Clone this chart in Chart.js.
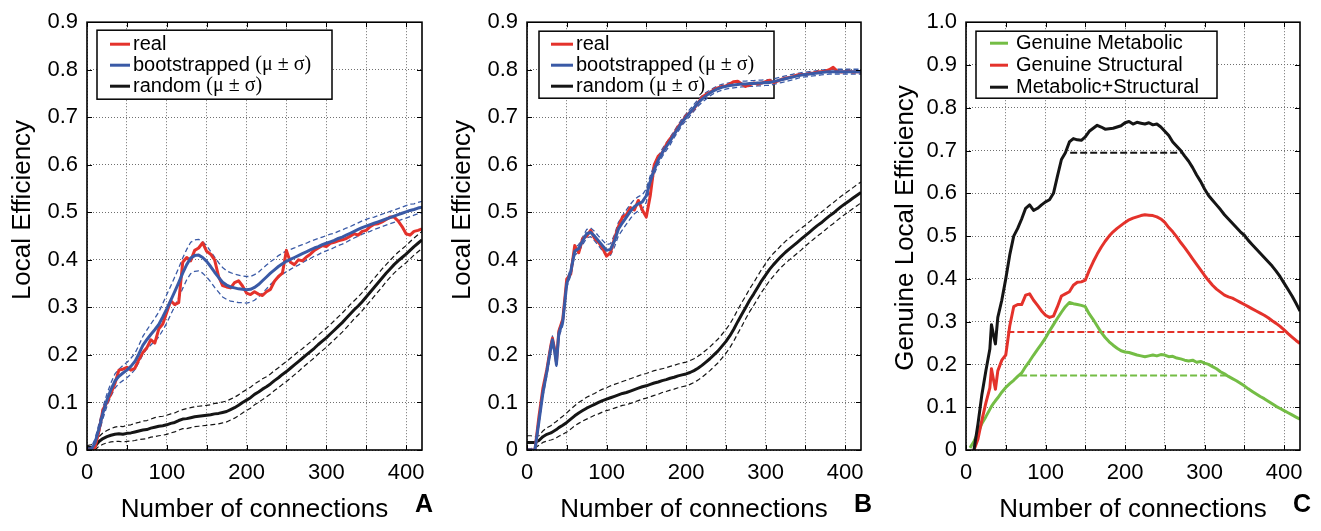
<!DOCTYPE html>
<html><head><meta charset="utf-8">
<script src="https://cdn.jsdelivr.net/npm/chart.js@4.4.1/dist/chart.umd.min.js"></script>
<style>
html,body{margin:0;padding:0;background:#fff;}
#wrap{position:relative;width:1321px;height:531px;overflow:hidden;background:#fff;}
.pan{position:absolute;top:0;height:531px;}
</style></head><body>
<div id="wrap">
<div class="pan" style="left:0;width:440px"><canvas id="cA" width="440" height="531"></canvas></div>
<div class="pan" style="left:440px;width:440px"><canvas id="cB" width="440" height="531"></canvas></div>
<div class="pan" style="left:880px;width:441px"><canvas id="cC" width="441" height="531"></canvas></div>
</div>
<script>
// ---------------- DATA ----------------
const X_TITLE = 'Number of connections';
const Y_TITLE_AB = 'Local Efficiency';
const Y_TITLE_C = 'Genuine Local Efficiency';
const LEGEND_AB = ['real', 'bootstrapped (μ ± σ)', 'random (μ ± σ)'];
const LEGEND_C = ['Genuine Metabolic', 'Genuine Structural', 'Metabolic+Structural'];
const PANEL_LETTERS = ['A', 'B', 'C'];

// x (number of connections) for panel A
const X_A = [0,5,10,15,20,25,30,35,40,45,
  50,55,60,65,70,75,80,85,90,95,
  100,105,110,115,120,125,130,135,140,145,
  150,155,160,165,170,175,180,185,190,195,
  200,205,210,215,220,225,230,235,240,245,
  250,255,260,265,270,275,280,285,290,295,
  300,305,310,315,320,325,330,335,340,345,
  350,355,360,365,370,375,380,385,390,395,
  400,405,410,415,420];

const A_real = [0,0,0.005,0.04,0.085,0.1,0.119,0.14,0.168,0.17,
  0.174,0.168,0.172,0.19,0.205,0.215,0.232,0.225,0.255,0.265,
  0.29,0.314,0.306,0.31,0.395,0.405,0.398,0.42,0.425,0.436,
  0.418,0.412,0.4,0.365,0.346,0.343,0.341,0.352,0.356,0.345,
  0.33,0.327,0.333,0.328,0.325,0.333,0.338,0.355,0.365,0.372,
  0.42,0.395,0.39,0.4,0.398,0.406,0.412,0.42,0.425,0.43,
  0.428,0.435,0.437,0.44,0.442,0.445,0.45,0.455,0.452,0.46,
  0.462,0.47,0.475,0.476,0.48,0.485,0.49,0.49,0.482,0.47,
  0.455,0.452,0.46,0.462,0.465];

const A_boot = [0,0,0.015,0.045,0.078,0.105,0.127,0.145,0.155,0.162,
  0.168,0.176,0.186,0.202,0.22,0.232,0.243,0.253,0.264,0.28,
  0.297,0.315,0.333,0.352,0.372,0.39,0.404,0.409,0.41,0.405,
  0.397,0.386,0.374,0.363,0.353,0.347,0.343,0.341,0.339,0.338,
  0.337,0.338,0.342,0.348,0.356,0.364,0.372,0.379,0.386,0.392,
  0.397,0.401,0.405,0.409,0.413,0.417,0.421,0.425,0.428,0.432,
  0.435,0.438,0.441,0.445,0.448,0.452,0.456,0.46,0.464,0.468,
  0.471,0.474,0.477,0.48,0.483,0.486,0.489,0.492,0.495,0.498,
  0.501,0.504,0.506,0.509,0.511];

const A_bootSd = [0.004,0.005,0.008,0.01,0.012,0.013,0.014,0.015,0.015,0.016,
  0.016,0.017,0.017,0.018,0.019,0.02,0.022,0.024,0.026,0.028,
  0.03,0.03,0.031,0.031,0.032,0.032,0.033,0.033,0.033,0.033,
  0.033,0.032,0.032,0.031,0.031,0.03,0.03,0.029,0.029,0.028,
  0.028,0.027,0.027,0.026,0.026,0.025,0.024,0.023,0.023,0.022,
  0.022,0.021,0.02,0.02,0.019,0.018,0.018,0.017,0.017,0.016,
  0.016,0.016,0.015,0.015,0.015,0.015,0.014,0.014,0.014,0.014,
  0.014,0.014,0.013,0.013,0.013,0.013,0.013,0.013,0.013,0.013,
  0.013,0.013,0.012,0.012,0.012];

const A_rand = [0.005,0.005,0.008,0.018,0.024,0.028,0.031,0.033,0.034,0.033,
  0.035,0.036,0.038,0.04,0.042,0.043,0.046,0.048,0.05,0.051,
  0.053,0.056,0.058,0.062,0.065,0.066,0.068,0.07,0.071,0.072,
  0.073,0.074,0.076,0.077,0.079,0.081,0.085,0.089,0.094,0.1,
  0.105,0.11,0.117,0.122,0.128,0.133,0.139,0.146,0.152,0.159,
  0.165,0.172,0.179,0.186,0.193,0.2,0.207,0.214,0.222,0.229,
  0.236,0.244,0.252,0.26,0.268,0.277,0.286,0.295,0.303,0.312,
  0.322,0.332,0.342,0.352,0.362,0.372,0.381,0.39,0.398,0.405,
  0.412,0.42,0.428,0.435,0.442];

const A_randSd = [0.004,0.006,0.008,0.01,0.012,0.013,0.014,0.015,0.016,0.016,
  0.017,0.017,0.018,0.018,0.019,0.019,0.019,0.02,0.02,0.02,
  0.02,0.02,0.02,0.02,0.02,0.021,0.021,0.021,0.021,0.021,
  0.021,0.021,0.022,0.022,0.022,0.022,0.022,0.022,0.022,0.022,
  0.022,0.022,0.022,0.022,0.022,0.021,0.021,0.021,0.021,0.021,
  0.021,0.021,0.021,0.021,0.02,0.02,0.02,0.02,0.02,0.02,
  0.02,0.02,0.02,0.02,0.02,0.02,0.02,0.019,0.019,0.019,
  0.019,0.019,0.019,0.019,0.019,0.018,0.018,0.018,0.018,0.018,
  0.018,0.018,0.018,0.018,0.018];

// x for panels B and C
const X_BC = [0,5,10,15,20,25,30,32,35,37,
  40,45,50,55,60,65,70,75,80,85,
  90,95,100,105,110,115,120,125,130,135,
  140,145,150,155,160,165,170,175,180,185,
  190,195,200,205,210,215,220,225,230,235,
  240,245,250,255,260,265,270,275,280,285,
  290,295,300,305,310,315,320,325,330,335,
  340,345,350,355,360,365,370,375,380,385,
  390,395,400,405,410,415,420];

const B_real = [0,0,0,0.07,0.13,0.17,0.22,0.235,0.21,0.185,
  0.25,0.275,0.36,0.37,0.43,0.415,0.445,0.45,0.462,0.445,
  0.437,0.425,0.408,0.415,0.445,0.47,0.49,0.495,0.51,0.505,
  0.525,0.505,0.49,0.535,0.6,0.618,0.625,0.642,0.655,0.665,
  0.68,0.69,0.703,0.71,0.718,0.73,0.742,0.748,0.752,0.758,
  0.762,0.765,0.766,0.77,0.775,0.776,0.77,0.765,0.768,0.772,
  0.77,0.772,0.775,0.778,0.773,0.776,0.78,0.782,0.784,0.786,
  0.789,0.79,0.79,0.792,0.793,0.795,0.796,0.797,0.8,0.805,
  0.797,0.795,0.796,0.797,0.795,0.796,0.795];

const B_boot = [0,0,0,0.06,0.12,0.165,0.215,0.232,0.205,0.18,
  0.245,0.27,0.35,0.375,0.418,0.424,0.44,0.455,0.458,0.45,
  0.44,0.43,0.42,0.422,0.44,0.465,0.478,0.49,0.502,0.512,
  0.518,0.522,0.535,0.565,0.59,0.61,0.625,0.638,0.65,0.664,
  0.677,0.69,0.7,0.71,0.72,0.73,0.738,0.745,0.751,0.756,
  0.76,0.763,0.765,0.767,0.768,0.769,0.77,0.77,0.771,0.771,
  0.772,0.772,0.773,0.773,0.775,0.777,0.779,0.781,0.783,0.785,
  0.787,0.789,0.79,0.791,0.792,0.793,0.794,0.795,0.796,0.796,
  0.796,0.796,0.796,0.796,0.796,0.796,0.796];

const B_bootSd = [0.003,0.003,0.004,0.006,0.007,0.008,0.008,0.008,0.008,0.008,
  0.008,0.008,0.008,0.008,0.008,0.008,0.008,0.009,0.009,0.01,
  0.01,0.011,0.012,0.012,0.013,0.014,0.015,0.015,0.015,0.015,
  0.015,0.015,0.014,0.012,0.01,0.009,0.008,0.008,0.008,0.007,
  0.007,0.007,0.007,0.007,0.007,0.007,0.007,0.007,0.006,0.006,
  0.006,0.006,0.006,0.006,0.006,0.006,0.006,0.006,0.006,0.006,
  0.006,0.006,0.006,0.006,0.006,0.006,0.006,0.006,0.006,0.006,
  0.005,0.005,0.005,0.005,0.005,0.005,0.005,0.005,0.005,0.005,
  0.005,0.005,0.005,0.005,0.005,0.005,0.005];

const B_rand = [0.016,0.016,0.016,0.02,0.028,0.033,0.036,0.038,0.041,0.043,
  0.047,0.052,0.058,0.065,0.072,0.078,0.083,0.088,0.092,0.096,
  0.1,0.104,0.107,0.11,0.113,0.116,0.119,0.121,0.124,0.127,
  0.13,0.133,0.135,0.138,0.141,0.143,0.146,0.148,0.151,0.153,
  0.156,0.158,0.16,0.163,0.167,0.172,0.178,0.185,0.192,0.2,
  0.208,0.218,0.228,0.24,0.254,0.27,0.285,0.3,0.315,0.328,
  0.342,0.356,0.368,0.38,0.39,0.399,0.408,0.416,0.423,0.43,
  0.437,0.444,0.451,0.458,0.465,0.472,0.478,0.485,0.492,0.498,
  0.505,0.512,0.518,0.524,0.53,0.536,0.542];

const B_randSd = [0.014,0.014,0.012,0.01,0.012,0.014,0.015,0.016,0.017,0.017,
  0.018,0.019,0.02,0.021,0.021,0.022,0.022,0.023,0.023,0.023,
  0.024,0.024,0.024,0.025,0.025,0.025,0.025,0.026,0.026,0.026,
  0.026,0.026,0.026,0.026,0.026,0.026,0.025,0.025,0.025,0.025,
  0.025,0.025,0.025,0.025,0.025,0.025,0.025,0.025,0.025,0.025,
  0.025,0.025,0.025,0.025,0.025,0.025,0.025,0.024,0.024,0.024,
  0.024,0.024,0.024,0.024,0.024,0.023,0.023,0.023,0.023,0.023,
  0.023,0.023,0.022,0.022,0.022,0.022,0.022,0.022,0.022,0.022,
  0.022,0.022,0.022,0.022,0.022,0.022,0.022];

const C_met = [null,0.005,0.02,0.04,0.062,0.078,0.095,0.102,0.11,0.115,
  0.122,0.135,0.146,0.155,0.163,0.172,0.18,0.195,0.208,0.222,
  0.235,0.248,0.262,0.278,0.293,0.308,0.322,0.335,0.345,0.342,
  0.34,0.338,0.335,0.318,0.305,0.29,0.275,0.263,0.253,0.245,
  0.238,0.232,0.229,0.228,0.225,0.222,0.22,0.218,0.22,0.222,
  0.22,0.223,0.222,0.218,0.219,0.215,0.213,0.21,0.208,0.21,
  0.205,0.207,0.203,0.2,0.195,0.19,0.183,0.178,0.172,0.167,
  0.162,0.156,0.15,0.143,0.137,0.131,0.125,0.12,0.114,0.108,
  0.102,0.097,0.092,0.087,0.082,0.077,0.072];

const C_str = [null,null,0,0.025,0.07,0.11,0.145,0.19,0.16,0.142,
  0.185,0.21,0.222,0.29,0.335,0.34,0.34,0.362,0.365,0.35,
  0.338,0.325,0.315,0.31,0.313,0.335,0.36,0.365,0.37,0.385,
  0.392,0.393,0.397,0.42,0.44,0.458,0.474,0.488,0.5,0.51,
  0.518,0.525,0.532,0.538,0.542,0.545,0.548,0.55,0.549,0.548,
  0.545,0.54,0.532,0.52,0.51,0.498,0.485,0.473,0.46,0.447,
  0.434,0.421,0.408,0.396,0.385,0.376,0.369,0.362,0.358,0.355,
  0.35,0.345,0.34,0.335,0.33,0.325,0.32,0.315,0.309,0.302,
  0.296,0.289,0.281,0.272,0.264,0.256,0.249];

const C_both = [null,null,0,0.06,0.13,0.185,0.236,0.293,0.265,0.248,
  0.31,0.35,0.4,0.456,0.5,0.518,0.54,0.565,0.573,0.56,
  0.565,0.573,0.58,0.585,0.6,0.64,0.679,0.695,0.72,0.728,
  0.725,0.724,0.732,0.745,0.752,0.759,0.755,0.75,0.751,0.752,
  0.755,0.758,0.765,0.768,0.762,0.766,0.764,0.762,0.765,0.76,
  0.762,0.755,0.745,0.735,0.72,0.71,0.7,0.687,0.675,0.66,
  0.643,0.628,0.61,0.595,0.584,0.573,0.562,0.55,0.54,0.53,
  0.52,0.51,0.502,0.49,0.48,0.47,0.46,0.45,0.44,0.43,
  0.418,0.405,0.39,0.375,0.36,0.343,0.325];

// dashed reference levels in panel C: metabolic, structural, metabolic+structural
const C_levelY = [0.174, 0.276, 0.695];
const C_levelFrom = [68, 52, 131];
const C_levelTo = [330, 400, 270];

// ---------------- STYLE ----------------
const FONT = "'Liberation Sans', Arial, Helvetica, sans-serif";
const SERIF = "'Liberation Serif', 'Times New Roman', serif";
const RED = '#e4322b', BLUE = '#3a5aa6', BLACK = '#151515', GREEN = '#74bd45';
const GRID = '#6f6f6f';
Chart.defaults.font.family = FONT;
Chart.defaults.color = '#000';

function pts(X, Y) { return X.map((x, i) => ({x: x, y: Y[i]})); }
function band(X, Y, S, sgn) { return X.map((x, i) => ({x: x, y: Y[i] == null ? null : Y[i] + sgn * S[i]})); }
function ds(data, color, width, dash, order) {
  return {data: data, borderColor: color, backgroundColor: color, borderWidth: width,
    borderDash: dash || [], pointRadius: 0, pointHoverRadius: 0, tension: 0, fill: false,
    order: order, spanGaps: false, borderCapStyle: 'butt', borderJoinStyle: 'round'};
}

function panelPlugin(cfg) {
  return {
    id: 'panel' + cfg.letter,
    beforeDatasetsDraw(chart) {
      const ctx = chart.ctx, ca = chart.chartArea, L = cfg.legend;
      const x0 = ca.left + L.dx, y0 = ca.top + L.dy;
      ctx.save();
      ctx.fillStyle = '#fff';
      ctx.fillRect(x0, y0, L.w, L.h);
      ctx.strokeStyle = '#000';
      ctx.lineWidth = 1.5;
      ctx.strokeRect(x0, y0, L.w, L.h);
      cfg.legendLabels.forEach((lab, i) => {
        const yy = y0 + L.rows[i];
        ctx.strokeStyle = cfg.legendColors[i];
        ctx.lineWidth = 3;
        ctx.beginPath(); ctx.moveTo(x0 + L.s1, yy); ctx.lineTo(x0 + L.s2, yy); ctx.stroke();
        ctx.fillStyle = '#000';
        ctx.textBaseline = 'middle';
        ctx.textAlign = 'left';
        const k = lab.indexOf(' (');
        const main = k >= 0 ? lab.slice(0, k) : lab;
        ctx.font = L.font + 'px ' + FONT;
        ctx.fillText(main, x0 + L.tx, yy);
        if (k >= 0) {
          const wm = ctx.measureText(main + ' ').width;
          ctx.font = L.font + 'px ' + SERIF;
          ctx.fillText(lab.slice(k + 1), x0 + L.tx + wm, yy);
        }
      });
      ctx.restore();
    },
    afterDraw(chart) {
      const ctx = chart.ctx, ca = chart.chartArea;
      const xs = chart.scales.x, ys = chart.scales.y;
      ctx.save();
      ctx.strokeStyle = '#000';
      ctx.lineWidth = 1;
      ctx.beginPath();
      xs.ticks.forEach(t => {
        const px = Math.round(xs.getPixelForValue(t.value)) + 0.5;
        ctx.moveTo(px, ca.bottom); ctx.lineTo(px, ca.bottom - 5);
        ctx.moveTo(px, ca.top); ctx.lineTo(px, ca.top + 5);
      });
      ys.ticks.forEach(t => {
        const py = Math.round(ys.getPixelForValue(t.value)) + 0.5;
        ctx.moveTo(ca.left, py); ctx.lineTo(ca.left + 5, py);
        ctx.moveTo(ca.right, py); ctx.lineTo(ca.right - 5, py);
      });
      ctx.stroke();
      ctx.lineWidth = 1.6;
      ctx.strokeRect(ca.left, ca.top, ca.right - ca.left, ca.bottom - ca.top);
      // y axis title
      ctx.fillStyle = '#000';
      ctx.font = '26px ' + FONT;
      ctx.textAlign = 'center';
      ctx.textBaseline = 'middle';
      ctx.save();
      ctx.translate(cfg.yTitleX, cfg.yTitleY);
      ctx.rotate(-Math.PI / 2);
      ctx.fillText(cfg.ytitle, 0, 0);
      ctx.restore();
      // panel letter
      ctx.font = 'bold 25px ' + FONT;
      ctx.fillText(cfg.letter, cfg.letterX, 505);
      ctx.restore();
    }
  };
}

function makeChart(id, cfg) {
  return new Chart(document.getElementById(id), {
    type: 'line',
    data: {datasets: cfg.datasets},
    options: {
      responsive: false, animation: false, devicePixelRatio: 1,
      layout: {padding: {left: 0, right: cfg.padRight, top: 16, bottom: 0}},
      plugins: {legend: {display: false}, tooltip: {enabled: false}},
      scales: {
        x: {type: 'linear', min: 0, max: 420,
          ticks: {stepSize: 50, includeBounds: false, autoSkip: false, maxRotation: 0, padding: 10, font: {size: 22},
            callback: v => (v % 100 === 0 ? String(v) : '')},
          grid: {color: GRID, lineWidth: 1, drawTicks: false, borderDash: [1, 2]},
          border: {display: false, dash: [1, 2]},
          title: {display: true, text: X_TITLE, font: {size: 26}, padding: {top: 0, bottom: 6}},
          afterFit: s => { s.height = 81; }},
        y: {type: 'linear', min: 0, max: cfg.ymax,
          ticks: {stepSize: 0.1, padding: 9, font: {size: 22},
            callback: v => (Math.abs(v) < 1e-9 ? '0' : v.toFixed(1))},
          grid: {color: GRID, lineWidth: 1, drawTicks: false, borderDash: [1, 2]},
          border: {display: false, dash: [1, 2]},
          title: {display: false, text: cfg.ytitle},
          afterFit: s => { s.width = cfg.yWidth; }}
      }
    },
    plugins: [panelPlugin(cfg)]
  });
}

const DASH = [5, 3];
// Panel A
makeChart('cA', {
  letter: PANEL_LETTERS[0], letterX: 424, ymax: 0.9, ytitle: Y_TITLE_AB, yTitleX: 23, yTitleY: 210, yWidth: 87, padRight: 18,
  legendLabels: LEGEND_AB, legendColors: [RED, BLUE, BLACK],
  legend: {dx: 10, dy: 8, w: 235, h: 69, rows: [14, 35, 56], s1: 13, s2: 33, tx: 36, font: 20},
  datasets: [
    ds(pts(X_A, A_boot), BLUE, 3, [], 1),
    ds(pts(X_A, A_real), RED, 3, [], 2),
    ds(band(X_A, A_boot, A_bootSd, 1), BLUE, 1.3, DASH, 3),
    ds(band(X_A, A_boot, A_bootSd, -1), BLUE, 1.3, DASH, 3),
    ds(pts(X_A, A_rand), BLACK, 3, [], 4),
    ds(band(X_A, A_rand, A_randSd, 1), BLACK, 1.2, DASH, 5),
    ds(band(X_A, A_rand, A_randSd, -1), BLACK, 1.2, DASH, 5)
  ]
});
// Panel B
makeChart('cB', {
  letter: PANEL_LETTERS[1], letterX: 423, ymax: 0.9, ytitle: Y_TITLE_AB, yTitleX: 23, yTitleY: 210, yWidth: 87, padRight: 19,
  legendLabels: LEGEND_AB, legendColors: [RED, BLUE, BLACK],
  legend: {dx: 12, dy: 9, w: 235, h: 67, rows: [13, 34, 55], s1: 12, s2: 34, tx: 37, font: 20},
  datasets: [
    ds(pts(X_BC, B_boot), BLUE, 3, [], 1),
    ds(pts(X_BC, B_real), RED, 3, [], 2),
    ds(band(X_BC, B_boot, B_bootSd, 1), BLUE, 1.3, DASH, 3),
    ds(band(X_BC, B_boot, B_bootSd, -1), BLUE, 1.3, DASH, 3),
    ds(pts(X_BC, B_rand), BLACK, 3, [], 4),
    ds(band(X_BC, B_rand, B_randSd, 1), BLACK, 1.2, DASH, 5),
    ds(band(X_BC, B_rand, B_randSd, -1), BLACK, 1.2, DASH, 5)
  ]
});
// Panel C
const levelColors = [GREEN, RED, BLACK];
const levelSets = C_levelY.map((y, i) => ds([{x: C_levelFrom[i], y: y}, {x: C_levelTo[i], y: y}], levelColors[i], 2, [7, 3], 5));
makeChart('cC', {
  letter: PANEL_LETTERS[2], letterX: 422, ymax: 1.0, ytitle: Y_TITLE_C, yTitleX: 26, yTitleY: 228, yWidth: 86, padRight: 21,
  legendLabels: LEGEND_C, legendColors: [GREEN, RED, BLACK],
  legend: {dx: 10, dy: 9, w: 241, h: 67, rows: [12, 34, 56], s1: 14, s2: 32, tx: 40, font: 20},
  datasets: [
    ds(pts(X_BC, C_both), BLACK, 3, [], 1),
    ds(pts(X_BC, C_str), RED, 3, [], 2),
    ds(pts(X_BC, C_met), GREEN, 3, [], 3)
  ].concat(levelSets)
});
</script>
</body></html>
